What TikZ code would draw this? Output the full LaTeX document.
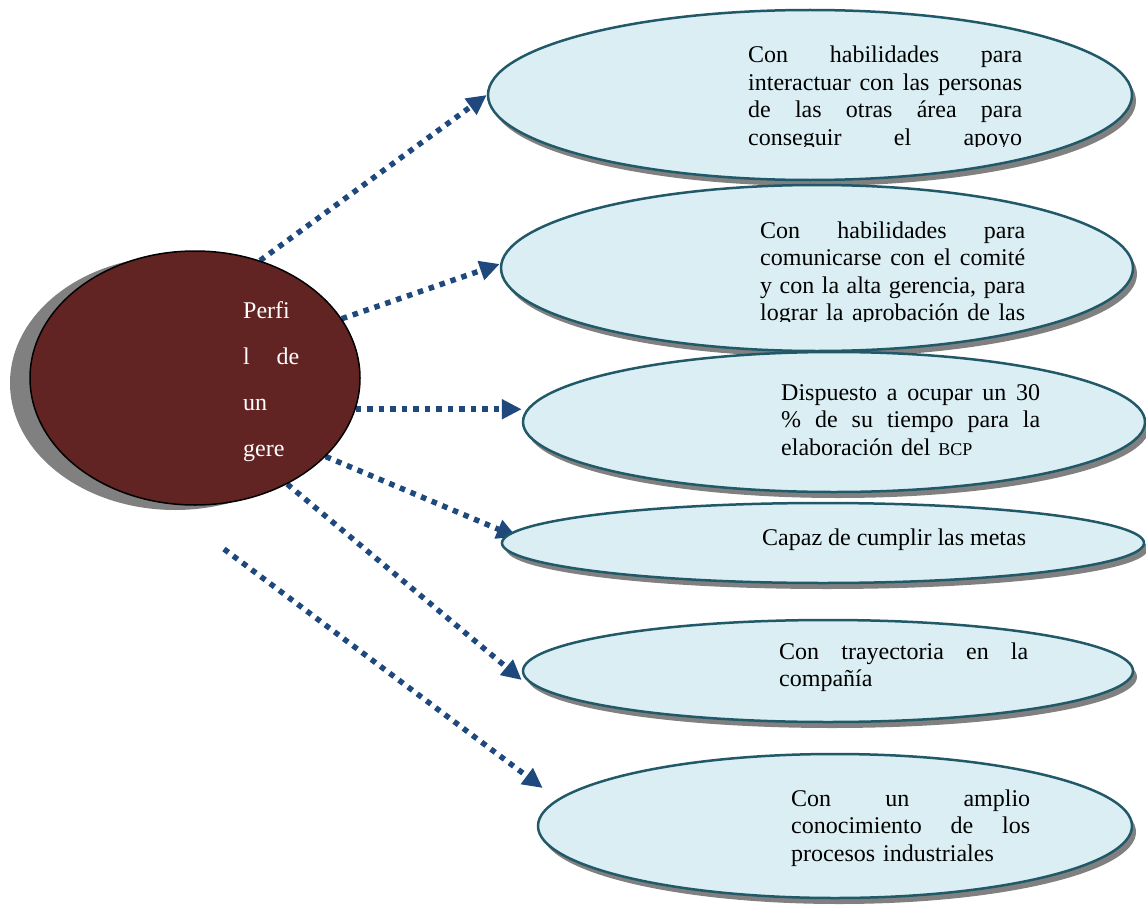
\documentclass[tikz,border=0pt]{standalone}
\usepackage{fontspec}
\setmainfont{Liberation Serif}
\usetikzlibrary{positioning, arrows.meta, shadows, shapes.geometric, backgrounds}
\definecolor{perfilred}{HTML}{622423}
\definecolor{ideafill}{HTML}{DAEEF3}
\definecolor{ideaborder}{HTML}{215968}
\definecolor{arrowblue}{HTML}{1F497D}
\newlength{\jwidth}
\newcommand{\jl}[1]{\leavevmode\hbox to\jwidth{\spaceskip=.25em plus 1fil\relax #1}}

\begin{document}
\begin{tikzpicture}[x=1pt, y=-1pt,
    idea/.style={ellipse, draw=ideaborder, line width=2.5pt, fill=ideafill, inner sep=0pt,
      drop shadow={shadow xshift=4pt, shadow yshift=-6pt, fill=black!50, opacity=1}},
    txt/.style={anchor=base west, align=left, inner sep=0pt, font=\fontsize{24}{27.5}\selectfont},
    jw/.style={text width=#1, execute at begin node={\setlength{\jwidth}{#1}}},
    link/.style={arrowblue, line width=5.5pt, dash pattern=on 5.5pt off 6pt,
      -{Triangle[length=20pt,width=19pt]}}]
    \useasboundingbox (0,0) rectangle (1146,907);
    \node [ellipse, draw, line width=1.5pt, fill=perfilred, minimum width=330pt, minimum height=254pt,
      drop shadow={shadow xshift=-20pt, shadow yshift=-5pt, fill=black!50, opacity=1}] (perfil) at (195,378) {};
    \node [txt, text=white, jw=56pt, font=\fontsize{24}{46}\selectfont] (perfiltxt) at (243,318)
      {Perfi\\ \jl{l de}\\ un\\ gere};

    \node [idea, minimum width=644pt, minimum height=170pt] (hab1) at (810,95) {};
    \begin{scope}
      \clip (740,30) rectangle (1030,146);
      \node [txt, jw=274pt] (hab1txt) at (748,63)
        {\jl{Con habilidades para}\\ \jl{interactuar con las personas}\\ \jl{de las otras área para}\\ \jl{conseguir el apoyo}};
    \end{scope}

    \node [idea, minimum width=632pt, minimum height=166pt] (hab2) at (817,268) {};
    \begin{scope}
      \clip (750,205) rectangle (1035,321);
      \node [txt, jw=265pt] (hab2txt) at (760,238)
        {\jl{Con habilidades para}\\ \jl{comunicarse con el comité}\\ \jl{y con la alta gerencia, para}\\ \jl{lograr la aprobación de las}};
    \end{scope}

    \node [idea, minimum width=622pt, minimum height=140pt] (tiempo) at (834,422) {};
    \node [txt, jw=259pt] (tiempotxt) at (781,400)
      {\jl{Dispuesto a ocupar un 30}\\ \jl{\% de su tiempo para la}\\ elaboración del {\fontsize{18}{20}\selectfont BCP}};

    \node [idea, minimum width=642pt, minimum height=80pt] (metas) at (823,543) {};
    \node [txt] (metastxt) at (762,545) {Capaz de cumplir las metas};

    \node [idea, minimum width=610pt, minimum height=102pt] (tray) at (828,671) {};
    \node [txt, jw=249pt] (traytxt) at (779,659)
      {\jl{Con trayectoria en la}\\ compañía};

    \node [idea, minimum width=594pt, minimum height=144pt] (conoc) at (835,826) {};
    \node [txt, jw=239pt] (conoctxt) at (791,806)
      {\jl{Con un amplio}\\ \jl{conocimiento de los}\\ procesos industriales};

    \coordinate (suelto) at (224,549);
    \begin{scope}[on background layer]
      \draw [link] (perfil.61) -- (hab1.west);
      \draw [link] (perfil.22) -- ([yshift=4pt]hab2.west);
      \draw [link] (perfil.-11) -- (perfil.-11 -| tiempo.west);
      \draw [link] (perfil.-31) -- ([xshift=16pt,yshift=6pt]metas.west);
      \draw [link] (perfil.-49) -- ([yshift=-9pt]tray.west);
      \draw [link] (suelto) -- ([xshift=6pt,yshift=38pt]conoc.west);
    \end{scope}
\end{tikzpicture}
\end{document}
